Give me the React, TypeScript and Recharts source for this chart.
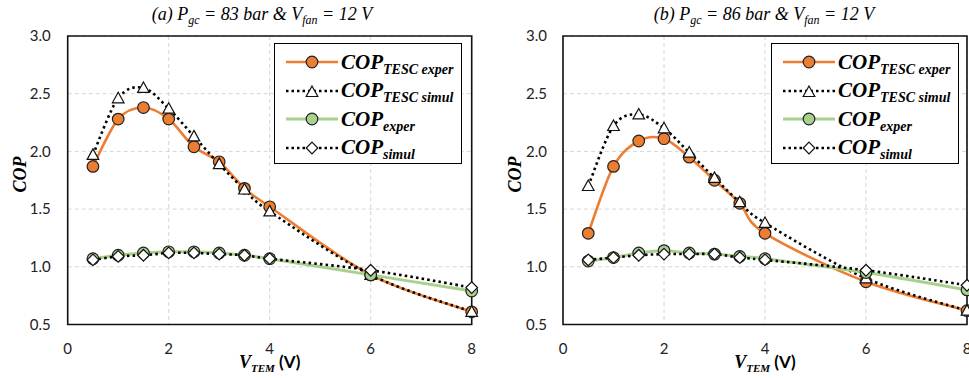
import React from "react";
import {
  LineChart,
  Line,
  XAxis,
  YAxis,
  CartesianGrid,
  ReferenceArea,
} from "recharts";

// TEM voltage steps (V)
const vTem = [0.5, 1, 1.5, 2, 2.5, 3, 3.5, 4, 6, 8];

// (a) Pgc = 83 bar
const tescExperA = [1.87, 2.28, 2.38, 2.28, 2.04, 1.91, 1.68, 1.52, 0.93, 0.61];
const tescSimulA = [1.97, 2.46, 2.55, 2.37, 2.13, 1.89, 1.67, 1.48, 0.93, 0.61];
const experA = [1.07, 1.1, 1.12, 1.13, 1.13, 1.12, 1.1, 1.07, 0.93, 0.79];
const simulA = [1.06, 1.09, 1.1, 1.12, 1.12, 1.11, 1.1, 1.07, 0.97, 0.82];

// (b) Pgc = 86 bar
const tescExperB = [1.29, 1.87, 2.09, 2.11, 1.95, 1.75, 1.55, 1.29, 0.87, 0.62];
const tescSimulB = [1.7, 2.22, 2.32, 2.2, 1.99, 1.77, 1.56, 1.38, 0.9, 0.62];
const experB = [1.05, 1.08, 1.12, 1.14, 1.12, 1.11, 1.09, 1.07, 0.95, 0.8];
const simulB = [1.06, 1.08, 1.1, 1.11, 1.11, 1.11, 1.08, 1.06, 0.97, 0.84];

const xTicks = [0, 2, 4, 6, 8];
const yTicks = [0.5, 1, 1.5, 2, 2.5, 3];

const ORANGE = "#ed7d31";
const GREEN = "#a9d18e";
const SERIF = "'Liberation Serif', 'DejaVu Serif', serif";
const SANS = "Lato, 'Open Sans', sans-serif";

// Excel-style smoothed line (Bezier with 1/6 tangents)
function smoothCurve(context: any) {
  let pts: number[][] = [];
  return {
    areaStart() {},
    areaEnd() {},
    lineStart() {
      pts = [];
    },
    point(x: number, y: number) {
      pts.push([+x, +y]);
    },
    lineEnd() {
      const n = pts.length;
      if (!n) return;
      context.moveTo(pts[0][0], pts[0][1]);
      for (let i = 0; i < n - 1; i++) {
        const p0 = pts[Math.max(i - 1, 0)];
        const p1 = pts[i];
        const p2 = pts[i + 1];
        const p3 = pts[Math.min(i + 2, n - 1)];
        context.bezierCurveTo(
          p1[0] + (p2[0] - p0[0]) / 6,
          p1[1] + (p2[1] - p0[1]) / 6,
          p2[0] - (p3[0] - p1[0]) / 6,
          p2[1] - (p3[1] - p1[1]) / 6,
          p2[0],
          p2[1]
        );
      }
    },
  };
}

const circleDot = (fill: string) => (p: any) => (
  <circle key={p.key ?? `${p.cx}-${p.cy}`} cx={p.cx} cy={p.cy} r={5.8} fill={fill} stroke="#222" strokeWidth={1.2} />
);

const triangleDot = (p: any) => (
  <path
    key={p.key ?? `${p.cx}-${p.cy}`}
    d={`M${p.cx},${p.cy - 6} L${p.cx + 5.8},${p.cy + 4.5} L${p.cx - 5.8},${p.cy + 4.5} Z`}
    fill="#fff"
    stroke="#111"
    strokeWidth={1.2}
  />
);

const diamondDot = (p: any) => (
  <path
    key={p.key ?? `${p.cx}-${p.cy}`}
    d={`M${p.cx},${p.cy - 5.8} L${p.cx + 5.8},${p.cy} L${p.cx},${p.cy + 5.8} L${p.cx - 5.8},${p.cy} Z`}
    fill="#fff"
    stroke="#111"
    strokeWidth={1.2}
  />
);

const Sub = ({ children, size = 11 }: { children: React.ReactNode; size?: number }) => (
  <span style={{ fontSize: size, verticalAlign: "-0.35em", lineHeight: 0 }}>{children}</span>
);

function LegendBox({ left }: { left: number }) {
  const rows = [
    { sub: "TESC exper", color: ORANGE, width: 2.5, dash: undefined, marker: "circle", fill: ORANGE },
    { sub: "TESC simul", color: "#000", width: 2.5, dash: "2.5 3", marker: "triangle", fill: "#fff" },
    { sub: "exper", color: GREEN, width: 3, dash: undefined, marker: "circle", fill: GREEN },
    { sub: "simul", color: "#000", width: 2.5, dash: "2.5 3", marker: "diamond", fill: "#fff" },
  ];
  return (
    <div
      style={{
        position: "absolute",
        left,
        top: 43,
        width: 188,
        height: 121,
        boxSizing: "border-box",
        border: "1.5px solid #000",
        background: "#fff",
        paddingTop: 4,
      }}
    >
      {rows.map((r) => (
        <div key={r.sub} style={{ display: "flex", alignItems: "center", height: 28.5 }}>
          <svg width={64} height={20} style={{ flex: "none" }}>
            <line x1={11} x2={63} y1={10} y2={10} stroke={r.color} strokeWidth={r.width} strokeDasharray={r.dash} />
            {r.marker === "circle" && circleDot(r.fill)({ cx: 37, cy: 10, key: "m" })}
            {r.marker === "triangle" && triangleDot({ cx: 37, cy: 11, key: "m" })}
            {r.marker === "diamond" && diamondDot({ cx: 37, cy: 10, key: "m" })}
          </svg>
          <span
            style={{
              fontFamily: SERIF,
              fontStyle: "italic",
              fontWeight: "bold",
              fontSize: 21,
              marginLeft: 2,
              whiteSpace: "nowrap",
            }}
          >
            COP<Sub size={14}>{r.sub}</Sub>
          </span>
        </div>
      ))}
    </div>
  );
}

type PanelProps = {
  x: number;
  plotLeft: number;
  plotRight: number;
  tickGap: number;
  tag: string;
  pgc: number;
  titleCenter: number;
  legendLeft: number;
  tescExper: number[];
  tescSimul: number[];
  exper: number[];
  simul: number[];
};

function Panel(props: PanelProps) {
  const W = 485;
  const H = 378;
  const rows = vTem.map((v, i) => ({
    v,
    tescExper: props.tescExper[i],
    tescSimul: props.tescSimul[i],
    exper: props.exper[i],
    simul: props.simul[i],
  }));
  const plotMid = (props.plotLeft + props.plotRight) / 2;

  return (
    <div style={{ position: "absolute", left: props.x, top: 0, width: W, height: H }}>
      <LineChart
        width={W}
        height={H}
        data={rows}
        margin={{ top: 36, right: W - props.plotRight, bottom: 0, left: 0 }}
      >
        <CartesianGrid stroke="#d6d6d6" strokeDasharray="4 3" />
        <XAxis
          dataKey="v"
          type="number"
          domain={[0, 8]}
          ticks={xTicks}
          height={53.5}
          tickSize={0}
          tickMargin={19}
          axisLine={false}
          tick={{ fill: "#222", fontSize: 15, fontFamily: SANS }}
          interval={0}
        />
        <YAxis
          type="number"
          domain={[0.5, 3]}
          ticks={yTicks}
          width={props.plotLeft}
          tickSize={0}
          tickMargin={props.tickGap}
          axisLine={false}
          tickFormatter={(t: number) => t.toFixed(1)}
          tick={{ fill: "#222", fontSize: 15, fontFamily: SANS }}
          interval={0}
        />
        <ReferenceArea x1={0} x2={8} y1={0.5} y2={3} fill="none" stroke="#111" strokeWidth={1.6} fillOpacity={0} />
        <Line
          dataKey="tescExper"
          type={smoothCurve as any}
          stroke={ORANGE}
          strokeWidth={2.6}
          dot={circleDot(ORANGE)}
          isAnimationActive={false}
        />
        <Line
          dataKey="tescSimul"
          type={smoothCurve as any}
          stroke="#000"
          strokeWidth={2.6}
          strokeDasharray="2.5 3.2"
          dot={triangleDot}
          isAnimationActive={false}
        />
        <Line
          dataKey="exper"
          type={smoothCurve as any}
          stroke={GREEN}
          strokeWidth={3}
          dot={circleDot(GREEN)}
          isAnimationActive={false}
        />
        <Line
          dataKey="simul"
          type={smoothCurve as any}
          stroke="#000"
          strokeWidth={2.6}
          strokeDasharray="2.5 3.2"
          dot={diamondDot}
          isAnimationActive={false}
        />
      </LineChart>

      {/* title */}
      <div
        style={{
          position: "absolute",
          left: props.titleCenter - 150,
          width: 300,
          top: 4,
          textAlign: "center",
          fontFamily: SERIF,
          fontStyle: "italic",
          fontSize: 18,
          whiteSpace: "nowrap",
        }}
      >
        ({props.tag}) P<Sub size={12}>gc</Sub> = {props.pgc} bar &amp; V<Sub size={12}>fan</Sub> = 12 V
      </div>

      {/* y axis title */}
      <div
        style={{
          position: "absolute",
          left: props.plotLeft - 78,
          top: 164,
          width: 60,
          textAlign: "center",
          transform: "rotate(-90deg)",
          fontFamily: SERIF,
          fontStyle: "italic",
          fontWeight: "bold",
          fontSize: 18,
        }}
      >
        COP
      </div>

      {/* x axis title */}
      <div
        style={{
          position: "absolute",
          left: plotMid - 100,
          width: 200,
          top: 351,
          textAlign: "center",
          fontWeight: "bold",
          fontSize: 18,
          whiteSpace: "nowrap",
        }}
      >
        <span style={{ fontFamily: SERIF, fontStyle: "italic" }}>
          V<Sub size={11}>TEM</Sub>
        </span>
        <span style={{ fontFamily: SANS, fontSize: 17 }}> (V)</span>
      </div>

      <LegendBox left={props.legendLeft} />
    </div>
  );
}

export default function App() {
  return (
    <div
      style={{
        position: "absolute",
        left: 0,
        top: 0,
        width: 969,
        height: 378,
        background: "#fff",
        overflow: "hidden",
      }}
    >
      <Panel
        x={0}
        plotLeft={67.7}
        plotRight={471.7}
        tickGap={17}
        tag="a"
        pgc={83}
        titleCenter={262}
        legendLeft={274}
        tescExper={tescExperA}
        tescSimul={tescSimulA}
        exper={experA}
        simul={simulA}
      />
      <Panel
        x={484}
        plotLeft={79}
        plotRight={483}
        tickGap={16}
        tag="b"
        pgc={86}
        titleCenter={280}
        legendLeft={287}
        tescExper={tescExperB}
        tescSimul={tescSimulB}
        exper={experB}
        simul={simulB}
      />
    </div>
  );
}
